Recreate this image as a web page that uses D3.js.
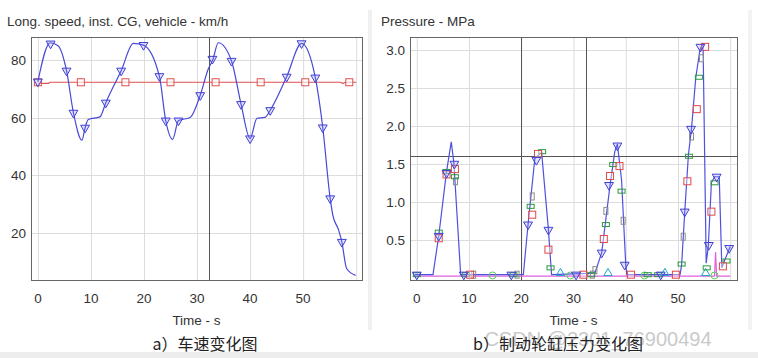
<!DOCTYPE html>
<meta charset="utf-8">
<style>
    html,
    body {
        margin: 0;
        padding: 0;
        background: #fff;
    }

    text {
        font-family: "Liberation Sans", Arial, sans-serif;
        fill: #333;
    }

    .grid line {
        stroke: #dcdcdc;
        stroke-width: 1;
    }

    .frame {
        fill: none;
        stroke: #666;
        stroke-width: 1;
    }

    .cursor {
        stroke: #555;
        stroke-width: 1;
    }

    .cap {
        font-family: "Noto Sans CJK SC", sans-serif;
        font-size: 16px;
        fill: #222;
    }
</style>
<svg id="canvas" width="758" height="358"></svg>
<script src="https://d3js.org/d3.v7.min.js"></script>
<script>
    // ---- left chart: vehicle speed ----
    var speedT = [0, 2.3, 3.8, 5.4, 6.7, 8.3, 8.9, 9.5, 11.7, 12.8, 15.7, 18, 19.9, 22.9, 24.1, 25.4, 26.5, 28.7, 30.6, 32.1, 33, 34, 36.5, 38.3, 40, 41.3, 42.8, 43.8, 46.9, 49.7, 52.3, 53.7, 55.1, 55.6, 56.7, 57.3, 58.2, 59.9];
    var speedV = [72.5, 86, 85, 76.3, 61.7, 52.2, 56.5, 59.4, 60.3, 65.2, 76.3, 85.8, 85.2, 74.4, 59, 52.5, 59, 60.1, 67.8, 76.8, 80.2, 86, 79.7, 64.7, 52.8, 59.8, 60.1, 62.6, 74.2, 85.8, 73.9, 56.6, 32, 26.2, 21, 16.9, 7.7, 5.3];
    var speedMarkT = [0, 2.4, 5.4, 6.7, 8.9, 12.8, 15.7, 19.9, 22.9, 24.1, 26.5, 30.6, 32.9, 36.5, 38.3, 40, 43.8, 46.9, 49.7, 52.3, 53.7, 55.1, 57.3];
    var speedMarkV = [72.5, 85.7, 76.3, 61.7, 56.5, 65.2, 76.3, 85.2, 74.4, 59, 59, 67.8, 80.4, 79.7, 64.7, 52.8, 62.6, 74.2, 85.8, 73.9, 56.6, 32, 16.9];
    var targetT = [0, 2, 2.3, 57, 57.5, 58, 60];
    var targetV = [71.9, 71.9, 72.3, 72.3, 71.9, 72.3, 72.3];
    var targetMarkT = [0, 8.1, 16.5, 25, 33.5, 42, 50.4, 58.7];
    var speedTicksY = [20, 40, 60, 80];

    // ---- right chart: brake pressure ----
    var pressT = [-0.4, 3.1, 4.2, 5.7, 6.6, 7.1, 8.4, 20.4, 21.3, 22.6, 23.9, 25.2, 25.8, 34.1, 35.4, 37, 37.9, 38.4, 39.2, 40, 40.2, 50.4, 50.7, 51.3, 52, 52.6, 53.4, 54.2, 54.8, 55.4, 55.8, 56.4, 57, 57.9, 58.4, 59, 60];
    var pressP = [0.04, 0.04, 0.55, 1.4, 1.79, 1.51, 0.04, 0.04, 0.7, 1.57, 1.65, 0.63, 0.04, 0.06, 0.33, 1.22, 1.66, 1.76, 1.29, 0.17, 0.04, 0.04, 0.17, 0.87, 1.62, 1.97, 2.63, 3.0, 3.09, 0.19, 0.41, 1.25, 1.33, 1.33, 0.13, 0.24, 0.41];
    var blueMarkT = [0, 4.2, 5.7, 7.2, 9.0, 18.1, 21.3, 22.9, 25.2, 30.5, 35.4, 36.8, 38.4, 39.8, 46.7, 51.3, 52.5, 54.3, 55.9, 57.4, 59.8];
    var blueMarkP = [0.04, 0.55, 1.38, 1.5, 0.04, 0.04, 0.7, 1.55, 0.63, 0.04, 0.33, 1.22, 1.74, 0.17, 0.04, 0.87, 1.96, 3.04, 0.43, 1.33, 0.39];
    var redMarkT = [4.2, 5.7, 7.3, 10.2, 22.1, 23.2, 25.2, 31.9, 35.8, 37, 38.8, 41, 49.6, 51.8, 53.6, 55.2, 56.4, 58.6];
    var redMarkP = [0.52, 1.36, 1.43, 0.04, 0.83, 1.63, 0.37, 0.04, 0.51, 1.34, 1.47, 0.04, 0.04, 1.27, 2.22, 3.04, 0.87, 0.15];
    var greenMarkT = [0, 4.2, 5.7, 7.3, 9.4, 18.5, 21.8, 24, 25.6, 33.4, 36.2, 37.6, 39.2, 44.2, 46.2, 50.7, 52.1, 54, 55.5, 57, 59.3];
    var greenMarkP = [0.04, 0.6, 1.4, 1.33, 0.04, 0.04, 0.94, 1.66, 0.13, 0.04, 0.7, 1.49, 1.14, 0.04, 0.04, 0.18, 1.6, 2.64, 0.13, 1.25, 0.22];
    var grayMarkT = [7.4, 10.9, 19.2, 22.1, 33.6, 34.1, 36.2, 39.5, 51, 52.6, 54.5];
    var grayMarkP = [1.27, 0.04, 0.04, 1.07, 0.04, 0.1, 0.88, 0.75, 0.54, 1.86, 2.89];
    var cyanMarkT = [27.5, 36.6, 47.5, 55.3];
    var circleMarkT = [14.5, 29.4, 43.6, 57];
    var pinkT = [-0.4, 57, 57.2, 57.4, 60];
    var pinkP = [0.02, 0.02, 0.34, 0.02, 0.02];
    var pressTicksY = [0.5, 1.0, 1.5, 2.0, 2.5, 3.0];

    var timeTicks = [0, 10, 20, 30, 40, 50, 60];
    var timeLabels = [0, 10, 20, 30, 40, 50];

    var svg = d3.select("#canvas");

    // panel backgrounds / separators
    svg.append("rect").attr("x", 0).attr("y", 0).attr("width", 758).attr("height", 358).attr("fill", "#fff");
    svg.append("rect").attr("x", 368).attr("y", 10).attr("width", 4).attr("height", 320).attr("fill", "#f0f0f0");
    svg.append("rect").attr("x", 748).attr("y", 10).attr("width", 4).attr("height", 320).attr("fill", "#f3f3f3");
    svg.append("rect").attr("x", 0).attr("y", 352).attr("width", 758).attr("height", 6).attr("fill", "#ededed");

    function panel(opt) {
        var x = d3.scaleLinear().domain(opt.xDomain).range([opt.left, opt.right]);
        var y = d3.scaleLinear().domain(opt.yDomain).range([opt.bottom, opt.top]);
        var g = svg.append("g");

        // grid
        var grid = g.append("g").attr("class", "grid");
        grid.selectAll("line.v").data(timeTicks).enter().append("line")
            .attr("x1", d => x(d) + 0.5).attr("x2", d => x(d) + 0.5)
            .attr("y1", opt.top).attr("y2", opt.bottom);
        grid.selectAll("line.h").data(opt.yTicks).enter().append("line")
            .attr("y1", d => Math.round(y(d)) + 0.5).attr("y2", d => Math.round(y(d)) + 0.5)
            .attr("x1", opt.left).attr("x2", opt.right);

        // axis labels
        g.selectAll("text.xt").data(timeLabels).enter().append("text")
            .attr("x", d => x(d)).attr("y", opt.bottom + 23)
            .attr("text-anchor", "middle").attr("font-size", 13.5)
            .text(d => d);
        g.selectAll("text.yt").data(opt.yTicks).enter().append("text")
            .attr("x", opt.left - 5).attr("y", d => y(d) + 5)
            .attr("text-anchor", "end").attr("font-size", 13.5)
            .text(opt.yFormat);
        g.append("text")
            .attr("x", (opt.left + opt.right) / 2).attr("y", opt.bottom + 45)
            .attr("text-anchor", "middle").attr("font-size", 13.5)
            .text("Time - s");
        g.append("text")
            .attr("x", opt.titleX).attr("y", 26)
            .attr("font-size", 13.5).attr("fill", "#222")
            .text(opt.title);

        // cursors
        opt.cursorX.forEach(function(c) {
            g.append("line").attr("class", "cursor")
                .attr("x1", Math.round(x(c)) + 0.5).attr("x2", Math.round(x(c)) + 0.5)
                .attr("y1", opt.top).attr("y2", opt.bottom);
        });
        opt.cursorY.forEach(function(c) {
            g.append("line").attr("class", "cursor")
                .attr("y1", Math.round(y(c)) + 0.5).attr("y2", Math.round(y(c)) + 0.5)
                .attr("x1", opt.left).attr("x2", opt.right);
        });

        var plot = g.append("g");
        g.append("rect").attr("class", "frame")
            .attr("x", opt.left + 0.5).attr("y", opt.top + 0.5)
            .attr("width", opt.right - opt.left).attr("height", opt.bottom - opt.top);
        return { x: x, y: y, g: plot };
    }

    function zip(a, b) {
        return a.map((d, i) => [d, b[i]]);
    }

    var triDown = d3.symbol().type(d3.symbolTriangle).size(34);
    var triUp = d3.symbol().type(d3.symbolTriangle).size(30);

    // ---- left ----
    var L = panel({
        xDomain: [-1.3, 61.1], yDomain: [3.7, 88],
        left: 31, right: 362, top: 37, bottom: 280,
        yTicks: speedTicksY, yFormat: d => d,
        title: "Long. speed, inst. CG, vehicle - km/h", titleX: 7,
        cursorX: [32.2], cursorY: []
    });

    var lineL = d3.line().x(d => L.x(d[0])).y(d => L.y(d[1]));

    L.g.append("path").datum(zip(targetT, targetV))
        .attr("d", lineL).attr("fill", "none")
        .attr("stroke", "#e05050").attr("stroke-width", 1.2);
    L.g.selectAll("rect.tm").data(targetMarkT).enter().append("rect")
        .attr("x", d => L.x(d) - 3.5).attr("y", L.y(72.3) - 3.5)
        .attr("width", 7).attr("height", 7)
        .attr("fill", "rgba(255,255,255,0.6)").attr("stroke", "#e05050").attr("stroke-width", 1);

    L.g.append("path").datum(zip(speedT, speedV))
        .attr("d", lineL.curve(d3.curveMonotoneX)).attr("fill", "none")
        .attr("stroke", "#4848d8").attr("stroke-width", 1.2);
    L.g.selectAll("path.sm").data(zip(speedMarkT, speedMarkV)).enter().append("path")
        .attr("d", triDown)
        .attr("transform", d => "translate(" + L.x(d[0]) + "," + L.y(d[1]) + ") rotate(180)")
        .attr("fill", "rgba(130,130,255,0.25)").attr("stroke", "#4040d0").attr("stroke-width", 1);

    // ---- right ----
    var R = panel({
        xDomain: [-1.3, 61.3], yDomain: [-0.03, 3.17],
        left: 410, right: 737, top: 37, bottom: 280,
        yTicks: pressTicksY, yFormat: d3.format(".1f"),
        title: "Pressure - MPa", titleX: 381,
        cursorX: [20, 32.3], cursorY: [1.6]
    });

    var lineR = d3.line().x(d => R.x(d[0])).y(d => R.y(d[1]));

    R.g.append("path").datum(zip(pinkT, pinkP))
        .attr("d", lineR).attr("fill", "none")
        .attr("stroke", "#e060e0").attr("stroke-width", 1.2);
    R.g.append("path").datum(zip(pressT, pressP))
        .attr("d", lineR).attr("fill", "none")
        .attr("stroke", "#5050e0").attr("stroke-width", 1.2);

    R.g.selectAll("rect.gy").data(zip(grayMarkT, grayMarkP)).enter().append("rect")
        .attr("x", d => R.x(d[0]) - 2).attr("y", d => R.y(d[1]) - 3.5)
        .attr("width", 4).attr("height", 7)
        .attr("fill", "none").attr("stroke", "#8a8a8a").attr("stroke-width", 1);
    R.g.selectAll("circle.ci").data(circleMarkT).enter().append("circle")
        .attr("cx", d => R.x(d)).attr("cy", R.y(0.03)).attr("r", 3.5)
        .attr("fill", "none").attr("stroke", "#55d055").attr("stroke-width", 1);
    R.g.selectAll("path.cy").data(cyanMarkT).enter().append("path")
        .attr("d", triUp)
        .attr("transform", d => "translate(" + R.x(d) + "," + R.y(0.06) + ")")
        .attr("fill", "none").attr("stroke", "#20a8c8").attr("stroke-width", 1);
    R.g.selectAll("rect.gr").data(zip(greenMarkT, greenMarkP)).enter().append("rect")
        .attr("x", d => R.x(d[0]) - 3.5).attr("y", d => R.y(d[1]) - 2)
        .attr("width", 7).attr("height", 4)
        .attr("fill", "none").attr("stroke", "#2a9a3a").attr("stroke-width", 1);
    R.g.selectAll("rect.rd").data(zip(redMarkT, redMarkP)).enter().append("rect")
        .attr("x", d => R.x(d[0]) - 3.5).attr("y", d => R.y(d[1]) - 3.5)
        .attr("width", 7).attr("height", 7)
        .attr("fill", "rgba(255,255,255,0.4)").attr("stroke", "#e04848").attr("stroke-width", 1);
    R.g.selectAll("path.bm").data(zip(blueMarkT, blueMarkP)).enter().append("path")
        .attr("d", triDown)
        .attr("transform", d => "translate(" + R.x(d[0]) + "," + R.y(d[1]) + ") rotate(180)")
        .attr("fill", "rgba(130,130,255,0.25)").attr("stroke", "#4040d0").attr("stroke-width", 1);

    // captions (the watermark sits behind caption b, as in the source image)
    svg.append("text").attr("class", "cap").attr("x", 205).attr("y", 350)
        .attr("text-anchor", "middle").text("a）车速变化图");
    svg.append("text").attr("x", 598).attr("y", 346)
        .attr("text-anchor", "middle").attr("font-size", 20)
        .style("fill", "#cacaca")
        .text("CSDN @2301_76900494");
    svg.append("text").attr("class", "cap").attr("x", 558).attr("y", 350)
        .attr("text-anchor", "middle").text("b）制动轮缸压力变化图");
</script>
